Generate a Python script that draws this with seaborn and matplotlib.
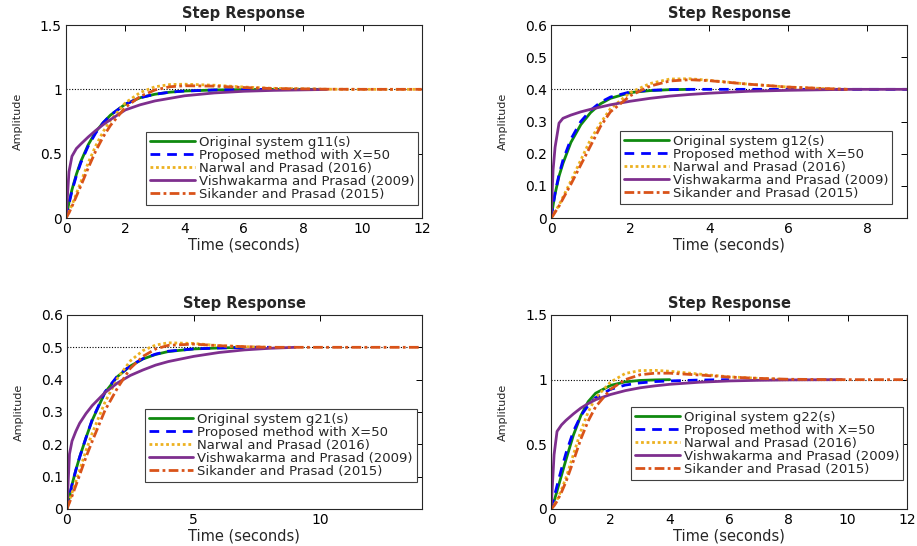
import matplotlib
matplotlib.use("Agg")
import matplotlib.pyplot as plt
import seaborn as sns

# ==== COLORS ====
c_orig = "#0f8a0f"
c_prop = "#0000ff"
c_narwal = "#edb120"
c_vish = "#7e2f8e"
c_sik = "#d95319"

series_names = ["Proposed method with X=50", "Narwal and Prasad (2016)",
                "Vishwakarma and Prasad (2009)", "Sikander and Prasad (2015)"]
system_names = ["g11(s)", "g12(s)", "g21(s)", "g22(s)"]
final_values = [1.0, 0.4, 0.5, 1.0]
x_limits = [12, 9, 14, 12]
y_limits = [1.5, 0.6, 0.6, 1.5]

# g11
t11 = [0, 0.1, 0.2, 0.35, 0.5, 0.75, 1, 1.25, 1.5, 2, 2.5, 3, 3.5, 4, 5, 6, 7, 8.5, 8.8, 10, 12]
g11_orig = [0, 0.12, 0.22, 0.34, 0.44, 0.57, 0.67, 0.74, 0.80, 0.885, 0.935, 0.962, 0.978, 0.987, 0.995, 0.998, 1.0, 1.0]
g11_prop = [0, 0.11, 0.21, 0.33, 0.43, 0.56, 0.66, 0.74, 0.80, 0.885, 0.935, 0.962, 0.978, 0.987, 0.995, 0.998, 1.0]
g11_narwal = [0, 0.05, 0.1, 0.19, 0.28, 0.43, 0.56, 0.67, 0.76, 0.895, 0.975, 1.02, 1.037, 1.04, 1.032, 1.018, 1.008, 1.002, 1.001, 1.0, 1.0]
g11_vish = [0, 0.36, 0.48, 0.54, 0.575, 0.63, 0.68, 0.725, 0.765, 0.84, 0.88, 0.91, 0.93, 0.95, 0.972, 0.985, 0.992, 0.998, 1.0]
g11_sik = [0, 0.04, 0.09, 0.17, 0.25, 0.39, 0.52, 0.63, 0.72, 0.86, 0.945, 0.995, 1.02, 1.028, 1.025, 1.014, 1.006, 1.002, 1.001, 1.0, 1.0]

# g12
t12 = [0, 0.05, 0.1, 0.2, 0.3, 0.5, 0.75, 1, 1.25, 1.5, 2, 2.5, 3, 3.5, 4, 5, 6, 7, 7.5, 8, 9]
g12_orig = [0, 0.04, 0.075, 0.13, 0.17, 0.235, 0.29, 0.328, 0.355, 0.372, 0.39, 0.396, 0.399, 0.4]
g12_prop = [0, 0.04, 0.078, 0.135, 0.18, 0.245, 0.30, 0.335, 0.36, 0.376, 0.392, 0.397, 0.399, 0.4, 0.4, 0.4, 0.4, 0.4, 0.4, 0.4, 0.4]
g12_narwal = [0, 0.01, 0.02, 0.04, 0.065, 0.115, 0.18, 0.245, 0.295, 0.34, 0.39, 0.418, 0.432, 0.433, 0.428, 0.416, 0.407, 0.402, 0.4]
g12_vish = [0, 0.15, 0.22, 0.295, 0.31, 0.32, 0.33, 0.338, 0.345, 0.352, 0.363, 0.372, 0.379, 0.384, 0.388, 0.394, 0.397, 0.399, 0.4, 0.4, 0.4]
g12_sik = [0, 0.008, 0.018, 0.037, 0.06, 0.105, 0.165, 0.225, 0.285, 0.33, 0.38, 0.41, 0.426, 0.43, 0.427, 0.416, 0.407, 0.402, 0.4]

# g21
t21 = [0, 0.1, 0.2, 0.35, 0.5, 0.75, 1, 1.5, 2, 2.5, 3, 3.5, 4, 5, 6, 7, 8, 9, 10, 12, 14]
g21_orig = [0, 0.04, 0.075, 0.12, 0.16, 0.22, 0.275, 0.36, 0.41, 0.442, 0.464, 0.478, 0.487, 0.495, 0.498, 0.5]
g21_prop = [0, 0.04, 0.075, 0.12, 0.16, 0.22, 0.277, 0.362, 0.412, 0.443, 0.465, 0.479, 0.488, 0.495, 0.498, 0.5, 0.5]
g21_narwal = [0, 0.025, 0.05, 0.085, 0.12, 0.18, 0.235, 0.33, 0.405, 0.458, 0.49, 0.507, 0.514, 0.512, 0.505, 0.502, 0.5]
g21_vish = [0, 0.17, 0.21, 0.24, 0.265, 0.295, 0.32, 0.36, 0.39, 0.413, 0.43, 0.445, 0.456, 0.472, 0.484, 0.492, 0.497, 0.5]
g21_sik = [0, 0.02, 0.04, 0.072, 0.105, 0.16, 0.21, 0.305, 0.375, 0.435, 0.472, 0.495, 0.506, 0.51, 0.505, 0.502, 0.5, 0.5, 0.5, 0.5, 0.5]

# g22
t22 = [0, 0.1, 0.2, 0.35, 0.5, 0.75, 1, 1.25, 1.5, 2, 2.5, 3, 3.5, 4, 5, 6, 7, 8, 9.8, 12]
g22_orig = [0, 0.06, 0.14, 0.26, 0.38, 0.57, 0.72, 0.83, 0.895, 0.955, 0.983, 0.994, 0.998, 1.0]
g22_prop = [0, 0.09, 0.18, 0.31, 0.43, 0.6, 0.72, 0.8, 0.86, 0.925, 0.958, 0.975, 0.985, 0.99, 0.997, 1.0]
g22_narwal = [0, 0.03, 0.07, 0.15, 0.24, 0.42, 0.6, 0.75, 0.86, 0.98, 1.048, 1.07, 1.072, 1.065, 1.043, 1.022, 1.01, 1.0]
g22_vish = [0, 0.42, 0.6, 0.65, 0.685, 0.735, 0.78, 0.815, 0.845, 0.885, 0.915, 0.937, 0.952, 0.964, 0.98, 0.99, 0.995, 0.998, 1.0]
g22_sik = [0, 0.025, 0.06, 0.13, 0.21, 0.37, 0.54, 0.68, 0.79, 0.925, 1.0, 1.038, 1.05, 1.05, 1.036, 1.02, 1.01, 1.003, 1.0, 1.0]

panels = [
    (t11, [g11_orig, g11_prop, g11_narwal, g11_vish, g11_sik]),
    (t12, [g12_orig, g12_prop, g12_narwal, g12_vish, g12_sik]),
    (t21, [g21_orig, g21_prop, g21_narwal, g21_vish, g21_sik]),
    (t22, [g22_orig, g22_prop, g22_narwal, g22_vish, g22_sik]),
]

# ==== STYLE ====
sns.set_style("white")
plt.rcParams["font.family"] = ["DejaVu Sans"]

line_styles = [
    dict(color=c_orig, linestyle="-"),
    dict(color=c_prop, linestyle=(0, (3.5, 2.5))),
    dict(color=c_narwal, linestyle=(0, (1, 1))),
    dict(color=c_vish, linestyle="-"),
    dict(color=c_sik, linestyle=(0, (3.5, 1.2, 1, 1.2))),
]

# axes rectangles in figure fractions, legend anchors in axes fractions
rects = [
    [0.072, 0.6007, 0.388, 0.3535],
    [0.601, 0.6007, 0.388, 0.3535],
    [0.073, 0.0678, 0.387, 0.3553],
    [0.601, 0.0678, 0.388, 0.3553],
]
legend_anchor = [(0.99, 0.07), (0.958, 0.073), (0.986, 0.14), (0.989, 0.15)]
x_ticks = [[0, 2, 4, 6, 8, 10, 12], [0, 2, 4, 6, 8], [0, 5, 10], [0, 2, 4, 6, 8, 10, 12]]
y_ticks = [[0, 0.5, 1, 1.5], [0, 0.1, 0.2, 0.3, 0.4, 0.5, 0.6],
           [0, 0.1, 0.2, 0.3, 0.4, 0.5, 0.6], [0, 0.5, 1, 1.5]]
y_ticklabels = [["0", "0.5", "1", "1.5"], ["0", "0.1", "0.2", "0.3", "0.4", "0.5", "0.6"],
                ["0", "0.1", "0.2", "0.3", "0.4", "0.5", "0.6"], ["0", "0.5", "1", "1.5"]]

fig = plt.figure(figsize=(9.17, 5.46), dpi=100)

for i, (t, curves) in enumerate(panels):
    ax = fig.add_axes(rects[i])
    ax.axhline(final_values[i], color="black", linestyle=(0, (1, 1.5)), linewidth=0.8, zorder=1)
    labels = ["Original system " + system_names[i]] + series_names
    for y, lab, st in zip(curves, labels, line_styles):
        sns.lineplot(x=t[:len(y)], y=y, ax=ax, label=lab, linewidth=2.0,
                     estimator=None, sort=False, zorder=2, **st)
    ax.set_xlim(0, x_limits[i])
    ax.set_ylim(0, y_limits[i])
    ax.set_xticks(x_ticks[i])
    ax.set_yticks(y_ticks[i])
    ax.set_yticklabels(y_ticklabels[i])
    ax.tick_params(direction="in", length=4, width=0.7, top=True, right=True,
                   labelsize=10, pad=3, colors="black")
    for sp in ax.spines.values():
        sp.set_color("#262626")
        sp.set_linewidth(0.8)
    ax.set_title("Step Response", fontsize=10.5, weight="bold", pad=5)
    ax.set_xlabel("Time (seconds)", fontsize=10.5, labelpad=1)
    ax.set_ylabel("Amplitude", fontsize=8, labelpad=12)
    leg = ax.legend(loc="lower right", bbox_to_anchor=legend_anchor[i], borderaxespad=0,
                    fontsize=9.5, labelspacing=0.0, handlelength=3.4, handletextpad=0.3,
                    borderpad=0.3, fancybox=False, framealpha=1)
    leg.get_frame().set_edgecolor("#404040")
    leg.get_frame().set_linewidth(0.8)

fig.savefig("out.png", dpi=100)
